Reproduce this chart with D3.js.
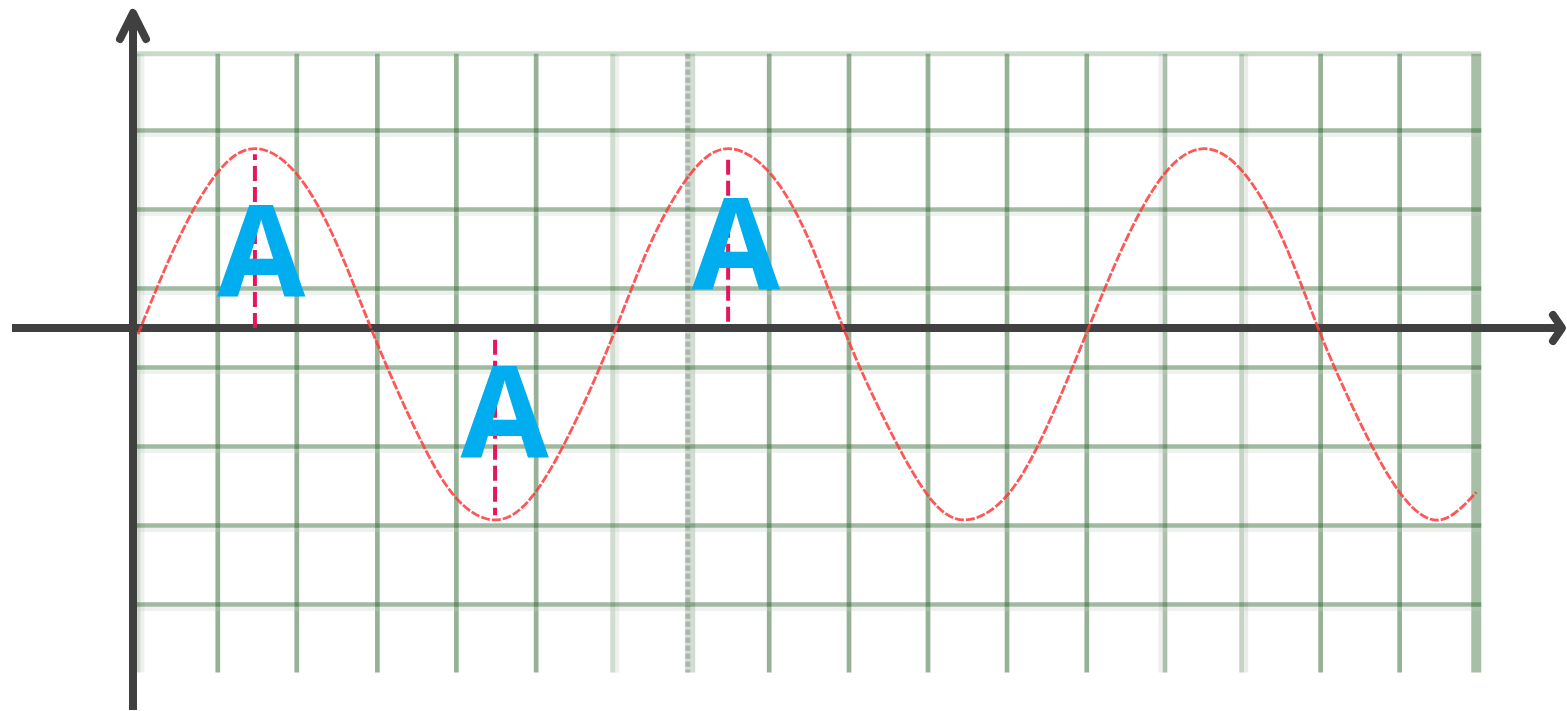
<!DOCTYPE html>
<html>
<head>
<meta charset="utf-8">
<script src="https://cdn.jsdelivr.net/npm/d3@7"></script>
<style>
  html, body { margin: 0; padding: 0; background: #fff; }
  svg { display: block; }
</style>
</head>
<body>
<svg id="chart" width="1567" height="711"></svg>
<script>
// ---- data (grid units) ----
const gridX = [0, 1.01, 2.01, 3.03, 4.03, 5.04, 6.01, 6.99, 7.99, 9.0, 10.0, 11.0, 12.01, 13.0, 13.97, 14.97, 15.97, 16.94];
const gridXKind = ["light","n","n","n","n","n","light","dotted","n","n","n","n","n","lightL","lightR","n","n","end"];
const gridY = [3.47, 2.5, 1.5, 0.5, -0.5, -1.5, -2.5, -3.5];
const gridYKind = ["light","n","n","n","n","n","n","n"];

// wave samples, every half grid unit
const waveX = [0,0.5,1,1.48,2,2.5,2.98,3.5,4,4.52,5,5.5,6.02,6.5,7,7.47,8,8.5,8.96,9.5,10,10.46,11,11.5,12.0,12.5,13,13.5,14,14.5,14.97,15.5,16,16.48,16.94];
const waveY = [-0.08,1.10,1.96,2.27,1.96,1.10,-0.08,-1.26,-2.12,-2.43,-2.12,-1.26,-0.08,1.10,1.96,2.27,1.96,1.10,-0.08,-1.26,-2.12,-2.43,-2.12,-1.26,-0.08,1.10,1.96,2.27,1.96,1.10,-0.08,-1.26,-2.12,-2.43,-2.08];

// amplitude markers: x position, y extent, label
const markX = [1.48, 4.52, 7.47];
const markFrom = [0, -0.15, 0.08];
const markTo = [2.2, -2.37, 2.2];
const labelX = [1.56, 4.64, 7.57];
const labelY = [0.39, -1.65, 0.48];
const labelText = ["A", "A", "A"];

// ---- scales ----
const x = d3.scaleLinear().domain([0, 17]).range([138, 1481]);
const y = d3.scaleLinear().domain([0, 1]).range([328, 249]);

const svg = d3.select("#chart");

// ---- grid ----
const grid = svg.append("g");
const yTop = y(gridY[0]), yBot = 672.5;
const xEnd = x(gridX[gridX.length - 1]) + 5;
gridX.forEach((g, i) => {
  const k = gridXKind[i];
  const xx = x(g);
  const vl = (dx, col, op, w) => grid.append("line").attr("x1", xx + dx).attr("x2", xx + dx)
      .attr("y1", yTop).attr("y2", yBot).attr("stroke", col).attr("stroke-opacity", op).attr("stroke-width", w);
  if (k === "n") {
    vl(0, "rgb(45,101,45)", 0.5, 4.7);
  } else if (k === "light") {
    vl(0, "rgb(110,150,110)", 0.32, 5);
    vl(4.5, "rgb(200,210,200)", 0.3, 4);
  } else if (k === "lightL") {
    vl(-4.5, "rgb(215,215,215)", 0.4, 4);
    vl(0, "rgb(45,101,45)", 0.4, 4.7);
  } else if (k === "lightR") {
    vl(0, "rgb(60,110,60)", 0.3, 4.7);
    vl(4.5, "rgb(210,215,210)", 0.5, 4);
  } else if (k === "dotted") {
    vl(0, "rgb(110,150,110)", 0.32, 10);
    vl(-2.5, "rgb(130,130,130)", 0.45, 5).attr("stroke-dasharray", "5,3");
  } else if (k === "end") {
    vl(0, "rgb(80,125,80)", 0.5, 10);
  }
});
gridY.forEach((g, i) => {
  const k = gridYKind[i];
  const yy = y(g);
  const hl = (dy, col, op, w) => grid.append("line").attr("x1", 137).attr("x2", xEnd)
      .attr("y1", yy + dy).attr("y2", yy + dy).attr("stroke", col).attr("stroke-opacity", op).attr("stroke-width", w);
  if (k === "light") {
    hl(0, "rgb(110,150,110)", 0.35, 5);
  } else {
    hl(0, "rgb(45,101,45)", 0.45, 4.7);
    hl(4.5, "rgb(200,210,200)", 0.3, 4);
  }
});

// ---- axes ----
const axisColor = "#404040";
const ax = svg.append("g").attr("stroke", axisColor).attr("stroke-width", 8).attr("fill", "none");
ax.append("line").attr("x1", 12).attr("x2", 1560).attr("y1", y(0)).attr("y2", y(0));
ax.append("line").attr("x1", 133).attr("x2", 133).attr("y1", 14).attr("y2", 710);
ax.append("path").attr("d", `M120,39 L133,13 L146,39`).attr("stroke-linecap", "round").attr("stroke-linejoin", "round");
ax.append("path").attr("d", `M1553,315 L1562,328 L1553,341`).attr("stroke-linecap", "round").attr("stroke-linejoin", "round");

// ---- wave ----
const pts = waveX.map((d, i) => [d, waveY[i]]);
const line = d3.line().x(d => x(d[0])).y(d => y(d[1])).curve(d3.curveNatural);
svg.append("path").datum(pts).attr("d", line)
  .attr("fill", "none").attr("stroke", "#ff3a3a").attr("stroke-width", 2.8)
  .attr("stroke-opacity", 0.85).attr("stroke-dasharray", "9,2");

// ---- amplitude markers ----
markX.forEach((m, i) => {
  svg.append("line").attr("x1", x(m)).attr("x2", x(m)).attr("y1", y(markFrom[i])).attr("y2", y(markTo[i]))
    .attr("stroke", "#e3165e").attr("stroke-width", 4).attr("stroke-dasharray", "15,6");
});
labelText.forEach((t, i) => {
  svg.append("text").attr("x", x(labelX[i])).attr("y", y(labelY[i]))
    .attr("text-anchor", "middle").attr("font-family", "'Open Sans', sans-serif")
    .attr("font-weight", 700).attr("font-size", 128).attr("fill", "#00adef").text(t);
});
</script>
</body>
</html>
